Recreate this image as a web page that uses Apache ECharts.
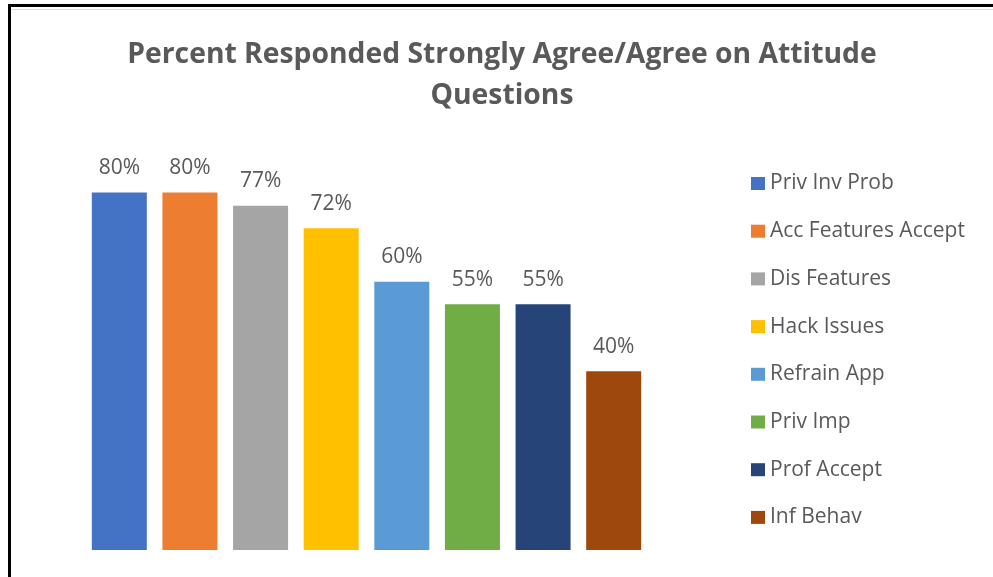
<!DOCTYPE html>
<html>
<head>
<meta charset="utf-8">
<script src="https://cdn.jsdelivr.net/npm/echarts@6/dist/echarts.min.js"></script>
<style>
  html, body { margin: 0; padding: 0; background: #ffffff; }
  #chart { width: 993px; height: 577px; }
</style>
</head>
<body>
<div id="chart"></div>
<script>
// Attitude questions and share of respondents answering Strongly Agree / Agree (%)
const categories = [
  'Priv Inv Prob', 'Acc Features Accept', 'Dis Features', 'Hack Issues',
  'Refrain App', 'Priv Imp', 'Prof Accept', 'Inf Behav'
];
const values = [80, 80, 77, 72, 60, 55, 55, 40];
const colors = [
  '#4472c4', '#ed7d31', '#a5a5a5', '#ffc000',
  '#5b9bd5', '#70ad47', '#264478', '#9e480e'
];

const FONT = '"Open Sans", sans-serif';
const TEXT_GREY = '#595959';

// One series per question so each gets its own legend entry; the series share
// a stack so every bar sits centred on its own category slot.
const series = categories.map((name, i) => ({
  name: name,
  type: 'bar',
  stack: 'all',
  barWidth: 55,
  itemStyle: { color: colors[i] },
  label: {
    show: true,
    position: 'top',
    distance: 14,
    formatter: p => p.value + '%',
    color: TEXT_GREY,
    fontFamily: FONT,
    fontSize: 21
  },
  data: categories.map((_, j) => (j === i ? values[i] : '-'))
}));

const chart = echarts.init(document.getElementById('chart'), null, { renderer: 'canvas' });
chart.setOption({
  backgroundColor: '#ffffff',
  animation: false,
  title: {
    text: 'Percent Responded Strongly Agree/Agree on Attitude\nQuestions',
    left: 502,
    textAlign: 'center',
    top: 34,
    padding: 0,
    textStyle: {
      color: TEXT_GREY,
      fontFamily: FONT,
      fontWeight: 'bold',
      fontSize: 28.3,
      lineHeight: 41
    }
  },
  legend: {
    orient: 'vertical',
    left: 746,
    top: 168,
    itemWidth: 14,
    itemHeight: 13,
    itemGap: 26.7,
    icon: 'rect',
    data: categories,
    textStyle: {
      color: TEXT_GREY,
      fontFamily: FONT,
      fontSize: 21,
      lineHeight: 20
    }
  },
  grid: { left: 84, right: 344, top: 103, bottom: 27, containLabel: false },
  xAxis: {
    type: 'category',
    data: categories,
    show: false
  },
  yAxis: {
    type: 'value',
    min: 0,
    max: 100,
    show: false
  },
  graphic: [
    // frame edges around the chart area
    { type: 'rect', shape: { x: 8, y: 4, width: 985, height: 3 }, style: { fill: '#000000' } },
    { type: 'rect', shape: { x: 8, y: 4, width: 3, height: 573 }, style: { fill: '#000000' } },
    { type: 'rect', shape: { x: 11, y: 9, width: 982, height: 1 }, style: { fill: '#dcdcdc' } }
  ],
  series: series
});
</script>
</body>
</html>
